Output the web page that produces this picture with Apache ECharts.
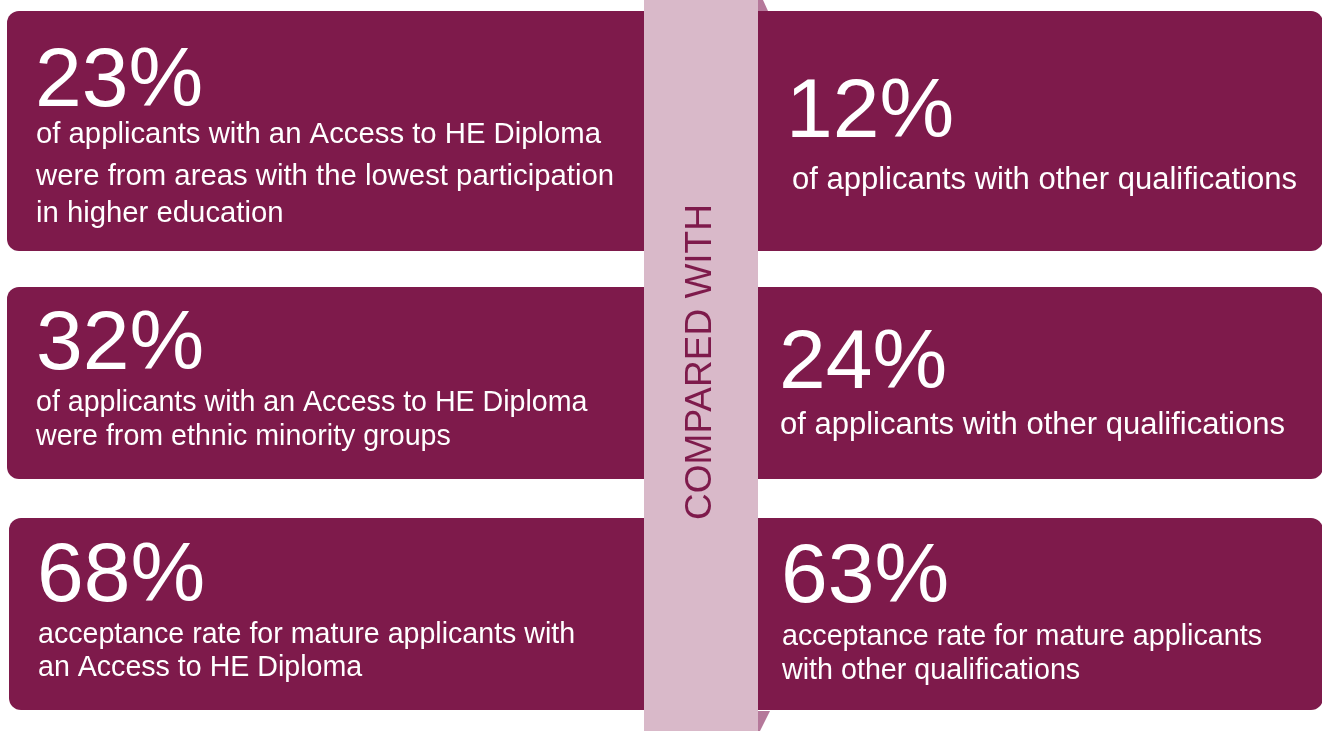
<!DOCTYPE html>
<html>
<head>
<meta charset="utf-8">
<script src="https://cdn.jsdelivr.net/npm/echarts@6/dist/echarts.min.js"></script>
<style>
  html, body { margin: 0; padding: 0; background: #fff; }
  #main { width: 1322px; height: 731px; }
</style>
</head>
<body>
<div id="main"></div>
<script>
// figures and captions
const accessFigures = ['23%', '32%', '68%'];
const otherFigures = ['12%', '24%', '63%'];
const accessCaptions = [
  ['of applicants with an Access to HE Diploma', 'were from areas with the lowest participation', 'in higher education'],
  ['of applicants with an Access to HE Diploma', 'were from ethnic minority groups'],
  ['acceptance rate for mature applicants with', 'an Access to HE Diploma']
];
const otherCaptions = [
  ['of applicants with other qualifications'],
  ['of applicants with other qualifications'],
  ['acceptance rate for mature applicants', 'with other qualifications']
];
const middleLabel = 'COMPARED WITH';

const plum = '#7E1A4B';
const band = '#D9B9C9';
const fold = '#B5789A';
const font = '"Liberation Sans", Arial, sans-serif';

// layout of each row (box top/bottom, number centre, caption line centres, caption size)
const rows = [
  { top: 11, bottom: 251,
    left: { x: 36, nx: 36, num: 83, lines: [135, 177, 214], size: 29.3 },
    right: { x: 792, nx: 786, num: 114, lines: [180], size: 31 } },
  { top: 287, bottom: 479,
    left: { x: 36, nx: 37, num: 346, lines: [403, 437], size: 28.6 },
    right: { x: 780, nx: 779, num: 365, lines: [425], size: 31 } },
  { top: 518, bottom: 710,
    left: { x: 38, nx: 38, num: 578, lines: [635, 668], size: 28.6 },
    right: { x: 782, nx: 781, num: 579, lines: [637, 671], size: 28.7 } }
];

function textEl(x, y, str, size) {
  return {
    type: 'text', x: x, y: y, z: 10,
    style: { text: str, fill: '#fff', font: size + 'px ' + font, verticalAlign: 'middle', align: 'left' }
  };
}

const elements = [];
rows.forEach(function (r, i) {
  const h = r.bottom - r.top;
  elements.push({ type: 'rect', shape: { x: i === 2 ? 9 : 7, y: r.top, width: 680, height: h, r: 12 }, style: { fill: plum } });
  elements.push({ type: 'rect', shape: { x: 720, y: r.top, width: 603, height: h, r: 12 }, style: { fill: plum } });

  elements.push(textEl(r.left.nx - 1, r.left.num, accessFigures[i], 84));
  accessCaptions[i].forEach(function (line, k) {
    elements.push(textEl(r.left.x, r.left.lines[k], line, r.left.size));
  });
  elements.push(textEl(r.right.nx, r.right.num, otherFigures[i], 84));
  otherCaptions[i].forEach(function (line, k) {
    elements.push(textEl(r.right.x, r.right.lines[k], line, r.right.size));
  });
});

// the centre band and its folded corners
elements.push({ type: 'rect', z: 5, shape: { x: 644, y: 0, width: 114, height: 731 }, style: { fill: band } });
elements.push({ type: 'polygon', z: 5, shape: { points: [[758, 0], [763, 0], [768, 11], [758, 11]] }, style: { fill: fold } });
elements.push({ type: 'polygon', z: 5, shape: { points: [[758, 711], [770, 711], [760, 731], [758, 731]] }, style: { fill: fold } });
elements.push({
  type: 'text', z: 10, x: 701, y: 362, rotation: Math.PI / 2,
  style: { text: middleLabel, fill: plum, font: '37px ' + font, align: 'center', verticalAlign: 'middle' }
});

const chart = echarts.init(document.getElementById('main'));
chart.setOption({
  backgroundColor: '#fff',
  animation: false,
  graphic: { elements: elements }
});
</script>
</body>
</html>
